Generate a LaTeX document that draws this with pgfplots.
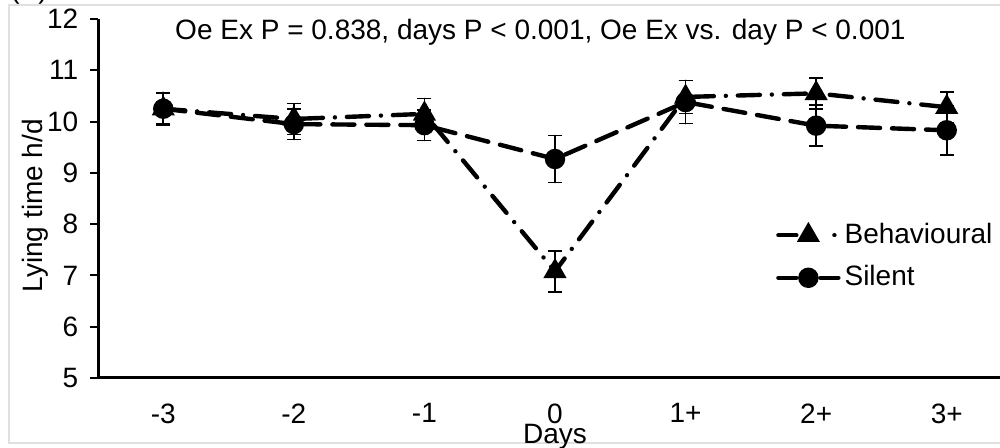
\documentclass[border=0pt]{standalone}
\usepackage{fontspec}
\setmainfont{Liberation Sans}
\usepackage{pgfplots}
\pgfplotsset{compat=1.18}

\begin{document}
\fontsize{14}{16}\selectfont
\begin{tikzpicture}
\useasboundingbox (0,0) rectangle (500pt,224pt);
\clip (0,0) rectangle (500pt,224pt);
\fill[white] (0,0) rectangle (500pt,224pt);
\draw[black!12, line width=0.8pt] (4.5pt,2.5pt) rectangle (510pt,221.5pt);
\node[anchor=base west, inner sep=0pt] at (5pt,224.5pt) {(A)};
\begin{axis}[
    at={(49pt,35pt)}, anchor=south west,
    scale only axis,
    width=457pt, height=179.5pt,
    xmin=-0.5, xmax=6.5,
    ymin=5, ymax=12,
    ytick={5,...,12},
    xtick={0,...,6},
    xticklabels={-3,-2,-1,0,1+,2+,3+},
    minor xtick={-0.5,0.5,...,6.5},
    xtick style={draw=none},
    minor tick length=4pt,
    major tick length=4pt,
    tick align=outside,
    tick style={line width=1pt, black},
    axis x line*=bottom,
    axis y line*=left,
    axis line style={line width=1.5pt, -},
    /pgf/number format/assume math mode=true,
    ticklabel style={font=\fontsize{14}{16}\selectfont},
    xticklabel style={yshift=-4pt},
    yticklabel style={xshift=-1pt},
    xlabel={Days},
    xlabel style={at={(axis description cs:0.5,0)}, anchor=center, yshift=-29.5pt,
        font=\fontsize{14}{16}\selectfont},
    ylabel={Lying time h/d},
    ylabel style={at={(axis description cs:-0.069,0.48)}, anchor=center,
        font=\fontsize{14}{16}\selectfont},
    clip=false,
    legend style={draw=none, fill=none, at={(0.735,0.455)}, anchor=north west,
        row sep=5pt, font=\fontsize{14}{16}\selectfont},
    legend cell align=left,
    legend image code/.code={\draw[mark repeat=2,mark phase=2,#1] plot coordinates {(0pt,0pt) (15pt,0pt) (30pt,0pt)};},
    error bars/error bar style={solid, line width=0.8pt},
    error bars/error mark options={rotate=90, mark size=3.5pt, line width=0.8pt, solid},
]
% Behavioural
\addplot[black, line width=2.2pt, line cap=round,
    dash pattern=on 11pt off 6pt on 0.01pt off 6pt,
    mark=triangle*, mark size=4.5pt, mark options={solid},
    legend image post style={dash pattern=on 9pt off 19pt on 0.01pt off 10pt},
    error bars/.cd, y dir=both, y explicit]
coordinates {
    (0,10.25) +- (0,0.30)
    (1,10.05) +- (0,0.30)
    (2,10.15) +- (0,0.30)
    (3,7.08)  +- (0,0.40)
    (4,10.48) +- (0,0.32)
    (5,10.55) +- (0,0.30)
    (6,10.28) +- (0,0.30)
};
\addlegendentry{Behavioural}
% Silent
\addplot[black, line width=2.2pt, line cap=round,
    dash pattern=on 11pt off 6pt,
    mark=*, mark size=4pt, mark options={solid},
    legend image post style={dash pattern=on 9pt off 12pt on 9pt},
    error bars/.cd, y dir=both, y explicit]
coordinates {
    (0,10.25) +- (0,0.32)
    (1,9.95)  +- (0,0.30)
    (2,9.93)  +- (0,0.30)
    (3,9.27)  +- (0,0.46)
    (4,10.38) +- (0,0.42)
    (5,9.92)  +- (0,0.40)
    (6,9.83)  +- (0,0.48)
};
\addlegendentry{Silent}
\node[font=\fontsize{14}{16}\selectfont] at (rel axis cs:0.484,0.964)
    {Oe Ex P = 0.838, days P < 0.001, Oe Ex vs. day P < 0.001};
\end{axis}
\end{tikzpicture}
\end{document}
